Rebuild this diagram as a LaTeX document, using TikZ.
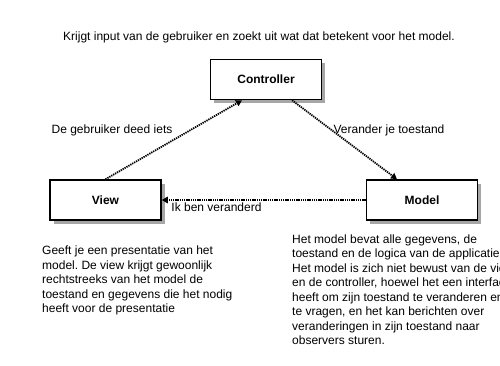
\documentclass[tikz,border=0pt]{standalone}
\usepackage{fontspec}
\setmainfont{Liberation Sans}
\frenchspacing
\usetikzlibrary{shadows,arrows.meta}

\tikzset{
  part/.style={draw, line width=1.5pt, fill=white, minimum width=111pt,
    minimum height=40pt, font=\fontsize{12}{14}\selectfont\bfseries,
    drop shadow={shadow xshift=3.5pt, shadow yshift=-3.5pt, fill=black!35, opacity=1}},
  msg/.style={line width=1.8pt, dash pattern=on 1.3pt off 0.9pt,
    -{Triangle[length=6pt,width=6.5pt]}},
  lbl/.style={font=\fontsize{12}{14}\selectfont, inner sep=0pt},
  note/.style={font=\fontsize{12}{14.5}\selectfont, align=left, inner sep=0pt}
}

\begin{document}
\begin{tikzpicture}[x=1pt, y=-1pt]
  \useasboundingbox (0,0) rectangle (500,366);
  \fill[white] (0,0) rectangle (500,366);

  % the three parts
  \node[part] (ctrl) at (266,79.5) {Controller};
  \node[part] (view) at (105.5,200) {View};
  \node[part] (model) at (422,200) {Model};

  % where the messages leave and arrive
  \coordinate (ctrlin) at ([xshift=-24pt]ctrl.south);
  \coordinate (ctrlout) at ([xshift=26pt]ctrl.south);
  \coordinate (modelin) at ([xshift=-25pt]model.north);

  % messages between them
  \draw[msg] (view.north) -- (ctrlin);
  \draw[msg] (ctrlout) -- (modelin);
  \draw[msg] (model.west) -- (view.east);

  \node[lbl] (doet) at (112,130) {De gebruiker deed iets};
  \node[lbl] (verander) at (389,130) {Verander je toestand};
  \node[lbl] (veranderd) at (216.5,207.5) {Ik ben veranderd};

  % what each part does
  \node[lbl] (ctrlnote) at (259,37) {Krijgt input van de gebruiker en zoekt uit wat dat betekent voor het model.};
  \node[note, anchor=north west] (viewnote) at (42,246) {Geeft je een presentatie van het\\
    model. De view krijgt gewoonlijk\\
    rechtstreeks van het model de\\
    toestand en gegevens die het nodig\\
    heeft voor de presentatie};
  \node[note, anchor=north west] (modelnote) at (292,234.5) {Het model bevat alle gegevens, de\\
    toestand en de logica van de applicatie.\\
    Het model is zich niet bewust van de view\\
    en de controller, hoewel het een interface\\
    heeft om zijn toestand te veranderen en\\
    te vragen, en het kan berichten over\\
    veranderingen in zijn toestand naar\\
    observers sturen.};
\end{tikzpicture}
\end{document}
